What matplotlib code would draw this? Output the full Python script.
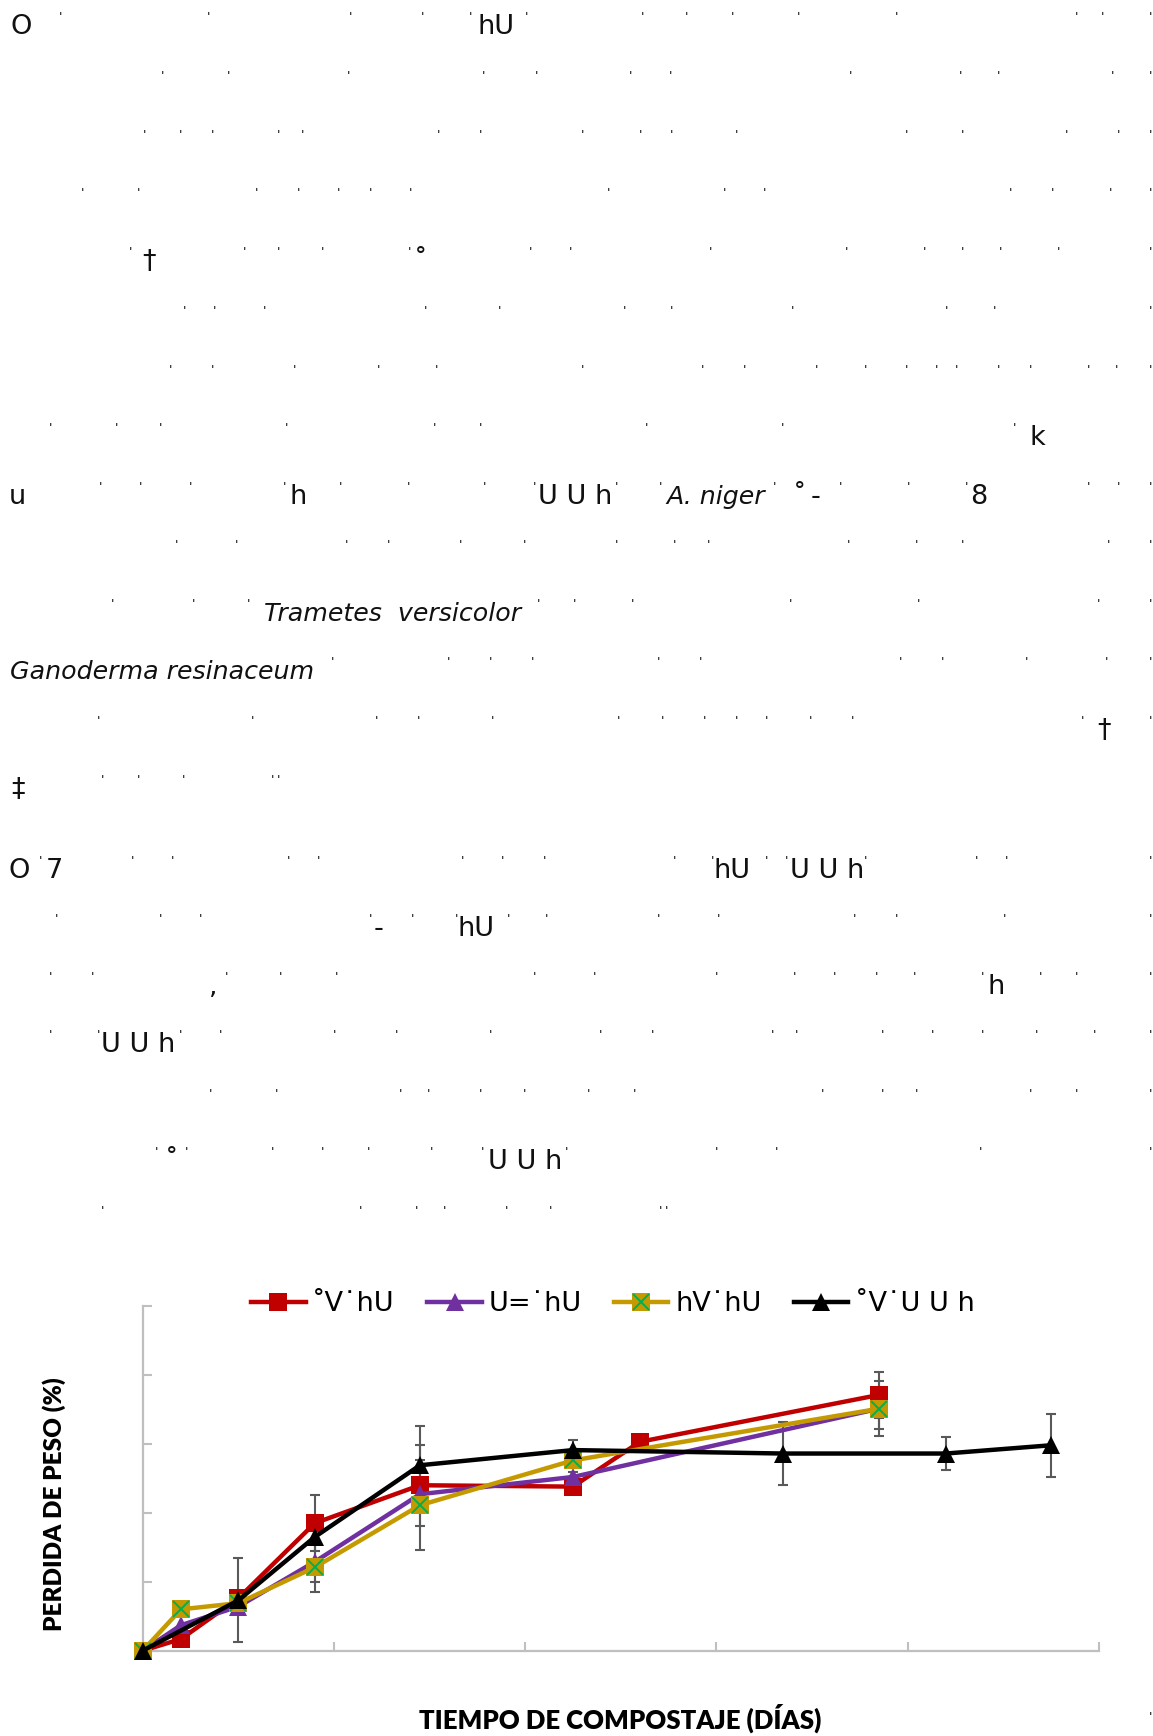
import numpy as np
import matplotlib
matplotlib.use("Agg")
import matplotlib.pyplot as plt
from matplotlib.legend_handler import HandlerTuple

# ---------------------------------------------------------------------------
# Data: weight loss (%) during composting, per treatment
# ---------------------------------------------------------------------------
series_labels = ["˚V˙hU", "U=˙hU", "hV˙hU", "˚V˙U U h"]

red_days = [0, 4, 10, 18, 29, 45, 52, 77]
red_loss = [0, 1.7, 7.6, 18.5, 24.0, 23.8, 30.3, 37.1]
red_err = [0, 0.8, 0, 4.1, 5.9, 0, 0, 3.3]

purple_days = [0, 4, 10, 18, 29, 45, 77]
purple_loss = [0, 3.7, 6.4, 12.9, 22.7, 25.2, 35.1]
purple_err = [0, 0, 0, 2.9, 0, 0.7, 4.0]

gold_days = [0, 4, 10, 18, 29, 45, 77]
gold_loss = [0, 6.0, 6.9, 12.1, 21.1, 27.6, 35.1]
gold_err = [0, 0, 0, 3.6, 6.5, 0, 2.9]

black_days = [0, 10, 18, 29, 45, 67, 84, 95]
black_loss = [0, 7.3, 16.5, 26.9, 29.1, 28.6, 28.6, 29.8]
black_err = [0, 6.1, 0, 5.7, 1.4, 4.6, 2.4, 4.6]

x_ticks = [0, 20, 40, 60, 80, 100]
y_ticks = [0, 10, 20, 30, 40, 50]

x_title = "TIEMPO DE COMPOSTAJE (DÍAS)"
y_title = "PERDIDA DE PESO (%)"

# ---------------------------------------------------------------------------
# Page text above the chart: rows of marks and glyphs (pixel layout)
# an int is a small mark, a tuple is (x, text[, style])
# ---------------------------------------------------------------------------
page_rows = [
    (13, [(11, "O"), 60, 208, 351, 423, 470, (477, "hU"), 526, 642, 687, 732,
          798, 897, 1076, 1103, 1150]),
    (72, [162, 228, 348, 484, 536, 631, 670, 850, 960, 999, 1112, 1150]),
    (131, [145, 181, 213, 278, 302, 439, 481, 582, 640, 672, 737, 907, 963,
           1066, 1118, 1150]),
    (189, [82, 139, 257, 299, 339, 370, 411, 608, 724, 764, 1011, 1052, 1111,
           1150]),
    (248, [131, (142, "†"), 245, 278, 322, 410, (414, "˚"), 530, 570, 710, 846,
           924, 963, 1000, 1058, 1150]),
    (307, [184, 214, 265, 425, 499, 624, 672, 793, 946, 994, 1150]),
    (366, [171, 212, 295, 378, 437, 582, 703, 744, 816, 865, 906, 937, 957,
           999, 1031, 1088, 1116, 1150]),
    (424, [50, 116, 160, 286, 434, 480, 647, 783, 1015, (1029, "k")]),
    (483, [(9, "u"), 101, 140, 190, 284, (289, "h"), 341, 409, 485, 534,
           (538, "U U h"), 617, 661, (666, "A. niger", "i"), 775, (793, "˚"),
           (811, "-"), 841, 909, 967, (970, "8"), 1088, 1119, 1150]),
    (541, [177, 237, 346, 389, 460, 524, 617, 675, 708, 848, 917, 963, 1108,
           1150]),
    (600, [112, 194, 249, (264, "Trametes  versicolor", "i"), 538, 574, 632,
           790, 919, 1099, 1150]),
    (658, [(10, "Ganoderma resinaceum", "i"), 332, 449, 491, 532, 658, 700,
           901, 943, 1026, 1107, 1150]),
    (717, [98, 253, 376, 418, 492, 619, 663, 705, 736, 767, 810, 853, 1082,
           (1097, "†"), 1150]),
    (776, [(11, "‡"), 103, 138, 183, 272, 278]),
    (857, [(9, "O"), 40, (46, "7"), 133, 172, 289, 318, 462, 503, 545, 674,
           713, (714, "hU"), 766, 786, (790, "U U h"), 865, 976, 1007, 1150]),
    (915, [57, 161, 200, 370, (374, "-"), 412, 457, (458, "hU"), 508, 546,
           659, 718, 854, 897, 1005, 1150]),
    (973, [50, 92, (209, ","), 227, 281, 337, 535, 595, 716, 794, 834, 876,
           915, 982, (988, "h"), 1040, 1077, 1150]),
    (1031, [50, 98, (101, "U U h"), 180, 221, 335, 396, 490, 600, 652, 772,
            797, 882, 933, 983, 1036, 1094, 1150]),
    (1090, [210, 276, 401, 429, 480, 525, 589, 635, 823, 882, 917, 1031, 1077,
            1150]),
    (1148, [157, (165, "˚"), 186, 272, 323, 368, 432, 482, (488, "U U h"),
            566, 716, 777, 981, 1150]),
    (1207, [103, 361, 416, 445, 507, 551, 661, 666]),
    (1713, [1150]),
]

W, H = 1153, 1736
fig = plt.figure(figsize=(W / 100, H / 100), dpi=100)
fig.patch.set_facecolor("white")


def fx(x):
    return x / W


def fy(y):
    return 1 - y / H


for row_y, items in page_rows:
    for it in items:
        if isinstance(it, (int, float)):
            fig.text(fx(it), fy(row_y - 2), "'", fontsize=9, ha="center",
                     va="top", color="black", family="DejaVu Sans")
        else:
            x, s = it[0], it[1]
            italic = len(it) > 2
            fig.text(fx(x), fy(row_y + 21), s,
                     fontsize=18.2 if italic else 19.5, ha="left",
                     va="baseline", color="#111111", family="DejaVu Sans",
                     style="italic" if italic else "normal")

# ---------------------------------------------------------------------------
# Chart
# ---------------------------------------------------------------------------
ax = fig.add_axes([142.7 / W, 1 - 1650.7 / H, 956.1 / W, 344.7 / H])
ax.set_xlim(x_ticks[0], x_ticks[-1])
ax.set_ylim(y_ticks[0], y_ticks[-1])
ax.set_xticks(x_ticks)
ax.set_yticks(y_ticks)
ax.tick_params(direction="in", length=6.5, width=1.5, color="#BFBFBF",
               labelleft=False, labelbottom=False)
for side in ("top", "right"):
    ax.spines[side].set_visible(False)
for side in ("left", "bottom"):
    ax.spines[side].set_color("#BFBFBF")
    ax.spines[side].set_linewidth(1.6)

err_color = "#595959"


def draw_err(days, vals, errs, color=err_color):
    d = np.asarray(days, float)
    v = np.asarray(vals, float)
    e = np.asarray(errs, float)
    m = e > 0
    ax.errorbar(d[m], v[m], yerr=e[m], fmt="none", ecolor=color,
                elinewidth=1.5, capsize=3.5, capthick=1.5, zorder=2,
                clip_on=False)


draw_err(red_days, red_loss, red_err)
draw_err(purple_days, purple_loss, purple_err)
draw_err(gold_days, gold_loss, gold_err)
draw_err(black_days, black_loss, black_err)

lw = 3.2
h_red, = ax.plot(red_days, red_loss, color="#C00000", lw=lw, marker="s",
                 markersize=12.5, markeredgewidth=0, clip_on=False, zorder=3)
h_purple, = ax.plot(purple_days, purple_loss, color="#7030A0", lw=lw,
                    marker="^", markersize=12.5, markeredgewidth=0,
                    clip_on=False, zorder=4)
h_gold, = ax.plot(gold_days, gold_loss, color="#C59A00", lw=lw, marker="s",
                  markersize=12.5, markeredgewidth=0, clip_on=False, zorder=5)
h_gold_x, = ax.plot(gold_days, gold_loss, linestyle="none", marker="x",
                    markersize=11, markeredgewidth=1.4, color="#00B050",
                    clip_on=False, zorder=5.5)
h_black, = ax.plot(black_days, black_loss, color="black", lw=lw, marker="^",
                   markersize=12.5, markeredgewidth=0, clip_on=False, zorder=6)

ax.set_xlabel(x_title, fontsize=18.5, fontweight="heavy", family="Lato",
              color="black", va="center")
ax.xaxis.set_label_coords((620 - 142.7) / 956.1, (1650.7 - 1718) / 344.7)
ax.set_ylabel(y_title, fontsize=17.5, fontweight="heavy", family="Lato",
              color="black", va="center")
ax.yaxis.set_label_coords((54 - 142.7) / 956.1, (1650.7 - 1504) / 344.7)

fig.legend([h_red, h_purple, (h_gold, h_gold_x), h_black], series_labels,
           loc="center", bbox_to_anchor=(613 / W, fy(1304)), ncol=4,
           frameon=False, prop={"family": "DejaVu Sans", "size": 19.5},
           handlelength=2.0, handletextpad=0.25, columnspacing=1.2,
           handler_map={tuple: HandlerTuple(ndivide=1)})

fig.savefig("out.png", dpi=100, facecolor="white")
